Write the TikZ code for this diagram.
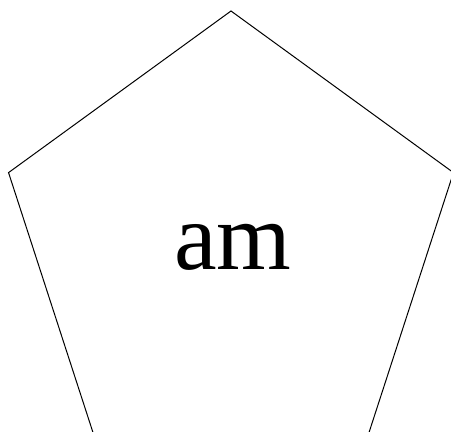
\documentclass[tikz,border=0pt]{standalone}
\usepackage{fontspec}
\setmainfont{Liberation Serif}
\usetikzlibrary{shapes.geometric}

\begin{document}
\begin{tikzpicture}[x=1pt,y=1pt]
\useasboundingbox (0,0) rectangle (451,432);
\node[draw, line width=1pt, regular polygon, regular polygon sides=5,
  minimum size=467.8pt, inner sep=0pt, outer sep=0pt] (pent) at (231,187.1) {};
\node[anchor=base, inner sep=0pt, font=\fontsize{96}{96}\selectfont] (lbl) at (233,162) {am};
\end{tikzpicture}
\end{document}
